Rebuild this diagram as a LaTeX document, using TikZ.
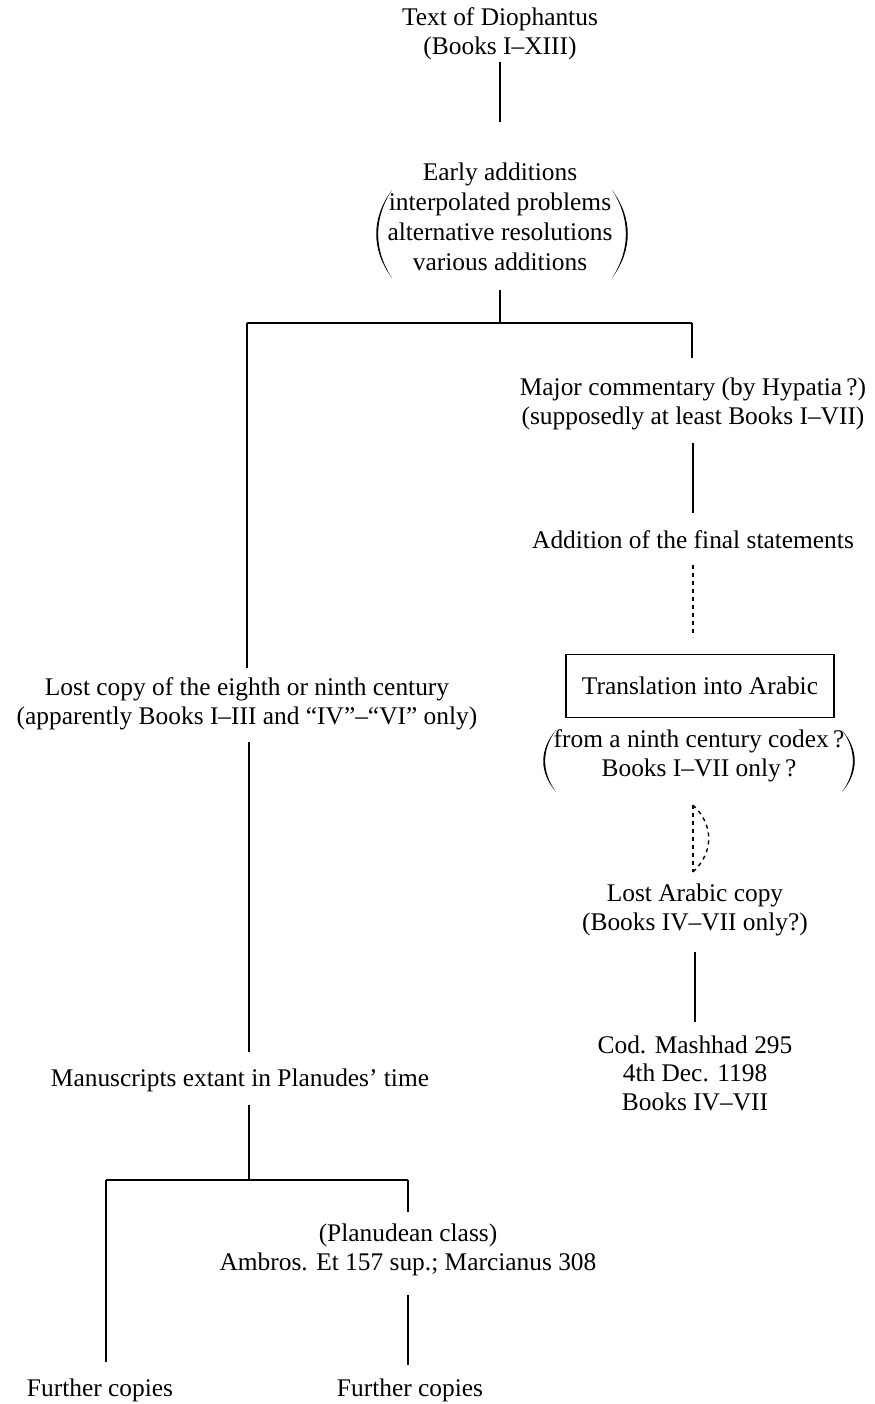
\documentclass[tikz,border=0pt]{standalone}
\usepackage{fontspec}
\setmainfont{Liberation Serif}
\usetikzlibrary{positioning,calc}

\begin{document}
\begin{tikzpicture}[x=0.5pt,y=-0.5pt,
  lbl/.style={align=center,inner sep=0pt,font=\fontsize{12.7}{14.3}\selectfont},
  box/.style={lbl,draw,line width=0.7pt,minimum width=134pt,minimum height=31.5pt},
  link/.style={line width=0.7pt},
  dashlink/.style={line width=0.7pt,dash pattern=on 2pt off 2pt}]
\useasboundingbox (0,0) rectangle (874,1404);
% Texts of the tree
\node[lbl] (text) at (500,34) {Text of Diophantus\\(Books I--XIII)};
\node[lbl,font=\fontsize{12.7}{15}\selectfont] (early) at (500,217) {Early additions\\interpolated problems\\alternative resolutions\\various additions};
\node[lbl] (major) at (693,404) {Major commentary (by Hypatia\,?)\\(supposedly at least Books I--VII)};
\node[lbl] (final) at (693,540) {Addition of the final statements};
\node[box] (arabic) at (700,686) {Translation into Arabic};
\node[lbl] (codex) at (699,756) {from a ninth century codex\,?\\Books I--VII only\,?};
\node[lbl] (lostar) at (695,910) {Lost Arabic copy\\(Books IV--VII only?)};
\node[lbl] (mashhad) at (695,1073) {Cod. Mashhad 295\\4th Dec. 1198\\Books IV--VII};
\node[lbl] (lost) at (247,704) {Lost copy of the eighth or ninth century\\(apparently Books I--III and ``IV''--``VI'' only)};
\node[lbl] (manus) at (240,1080) {Manuscripts extant in Planudes' time};
\node[lbl] (planud) at (408,1250) {(Planudean class)\\Ambros. Et 157 sup.; Marcianus 308};
\node[lbl] (further1) at (100,1390) {Further copies};
\node[lbl] (further2) at (410,1390) {Further copies};
% Big parentheses, drawn as thin crescents
\fill (392,190) .. controls (371,218) and (371,250) .. (392,278)
                .. controls (373.5,250) and (373.5,218) .. cycle;
\fill (612,190) .. controls (633,218) and (633,250) .. (612,278)
                .. controls (630.5,250) and (630.5,218) .. cycle;
\fill (556,730) .. controls (539,750) and (539,772) .. (556,792)
                .. controls (541.5,772) and (541.5,750) .. cycle;
\fill (842,730) .. controls (859,750) and (859,772) .. (842,792)
                .. controls (856.5,772) and (856.5,750) .. cycle;
% Upper branching
\coordinate (a1) at (500,62);
\coordinate (a2) at (500,122);
\coordinate (a3) at (500,290);
\coordinate (split) at (500,323);
\coordinate (left) at (247,323);
\coordinate (right) at (692,323);
\draw[link] (a1) -- (a2);
\draw[link] (a3) -- (split);
\draw[link] (left) -- (right);
\draw[link] (left) -- (247,668) coordinate (lostTop);
\draw[link] (right) -- (692,358) coordinate (majorTop);
% Arabic branch
\coordinate (b1) at (693,443);
\coordinate (b2) at (693,513);
\coordinate (b3) at (693,565);
\coordinate (b4) at (693,637);
\coordinate (b5) at (693,805);
\coordinate (b6) at (693,872);
\coordinate (b7) at (695,952);
\coordinate (b8) at (695,1022);
\draw[link] (b1) -- (b2);
\draw[dashlink] (b3) -- (b4);
\draw[dashlink] (b5) -- (b6);
\draw[dashlink] (b5) .. controls (714,825) and (714,852) .. (b6);
\draw[link] (b7) -- (b8);
% Greek branch
\coordinate (c1) at (249,742);
\coordinate (c2) at (249,1052);
\coordinate (c3) at (249,1105);
\coordinate (lsplit) at (249,1180);
\coordinate (lleft) at (106,1180);
\coordinate (lright) at (408,1180);
\draw[link] (c1) -- (c2);
\draw[link] (c3) -- (lsplit);
\draw[link] (lleft) -- (lright);
\draw[link] (lleft) -- (106,1362) coordinate (f1Top);
\draw[link] (lright) -- (408,1212) coordinate (planTop);
\draw[link] (408,1295) coordinate (planBot) -- (408,1365) coordinate (f2Top);
\end{tikzpicture}
\end{document}
